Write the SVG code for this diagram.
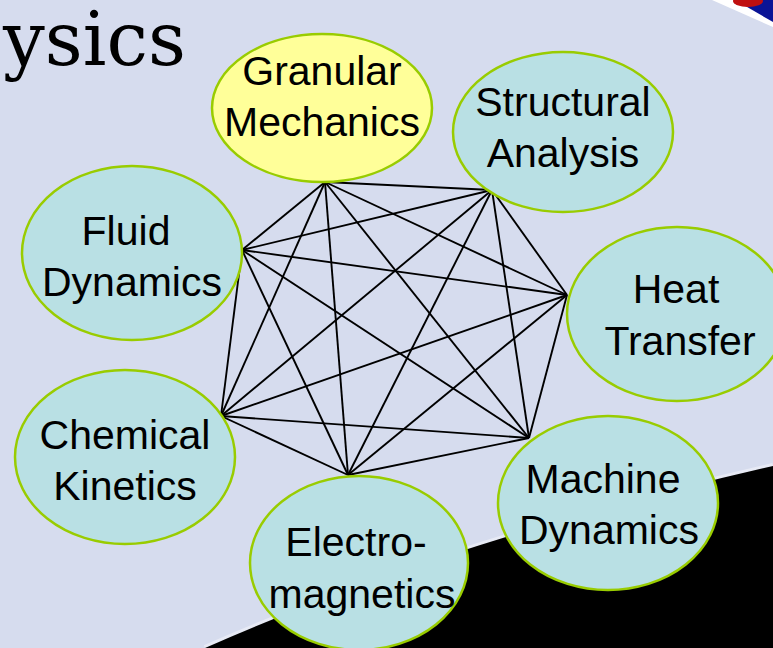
<svg xmlns="http://www.w3.org/2000/svg" width="773" height="648" viewBox="0 0 773 648">
<style>
.bg{fill:#d6dcee}
.node ellipse{fill:#b9e0e4;stroke:#99cc00;stroke-width:2.5}
.node.hl ellipse{fill:#ffff99}
.node text{font-family:"Liberation Sans",Arial,sans-serif;font-size:41px;fill:#000;text-anchor:middle}
#edges line{stroke:#000;stroke-width:1.9}
.title{font-family:"DejaVu Serif",serif;font-size:74px;font-weight:300;fill:#000}
</style>
<rect class="bg" x="0" y="0" width="773" height="648"/>
<path d="M 205 648 Q 450 540 773 466" fill="none" stroke="#eef0f8" stroke-width="6" opacity="0.7"/>
<path d="M 205 648 Q 450 540 773 466 L 773 648 Z" fill="#000"/>
<g id="corner">
<path d="M 712 0 L 773 0 L 773 27 Z" fill="#ffffff"/>
<path d="M 735 0 L 773 0 L 773 22 Z" fill="#0a1496"/>
<ellipse cx="748" cy="1" rx="15" ry="6" fill="#c01010"/>
</g>
<text class="title" x="3" y="65" textLength="183" lengthAdjust="spacing">ysics</text>
<g id="edges">
<line x1="325" y1="182" x2="492" y2="190"/>
<line x1="325" y1="182" x2="567" y2="295"/>
<line x1="325" y1="182" x2="529" y2="438"/>
<line x1="325" y1="182" x2="348" y2="475"/>
<line x1="325" y1="182" x2="221" y2="416"/>
<line x1="325" y1="182" x2="242" y2="250"/>
<line x1="492" y1="190" x2="567" y2="295"/>
<line x1="492" y1="190" x2="529" y2="438"/>
<line x1="492" y1="190" x2="348" y2="475"/>
<line x1="492" y1="190" x2="221" y2="416"/>
<line x1="492" y1="190" x2="242" y2="250"/>
<line x1="567" y1="295" x2="529" y2="438"/>
<line x1="567" y1="295" x2="348" y2="475"/>
<line x1="567" y1="295" x2="221" y2="416"/>
<line x1="567" y1="295" x2="242" y2="250"/>
<line x1="529" y1="438" x2="348" y2="475"/>
<line x1="529" y1="438" x2="221" y2="416"/>
<line x1="529" y1="438" x2="242" y2="250"/>
<line x1="348" y1="475" x2="221" y2="416"/>
<line x1="348" y1="475" x2="242" y2="250"/>
<line x1="221" y1="416" x2="242" y2="250"/>
</g>
<g id="granular" class="node hl">
<ellipse cx="322" cy="108" rx="110" ry="74"/>
<text x="322" y="85">Granular</text>
<text x="322" y="136">Mechanics</text>
</g>
<g id="structural" class="node">
<ellipse cx="563" cy="132" rx="110" ry="80"/>
<text x="563" y="116">Structural</text>
<text x="563" y="167">Analysis</text>
</g>
<g id="fluid" class="node">
<ellipse cx="132" cy="253" rx="110" ry="87"/>
<text x="126" y="245">Fluid</text>
<text x="132" y="296">Dynamics</text>
</g>
<g id="heat" class="node">
<ellipse cx="677" cy="314" rx="110" ry="87"/>
<text x="676" y="303">Heat</text>
<text x="680" y="355">Transfer</text>
</g>
<g id="chemical" class="node">
<ellipse cx="125" cy="457" rx="110" ry="87"/>
<text x="125" y="449">Chemical</text>
<text x="125" y="500">Kinetics</text>
</g>
<g id="machine" class="node">
<ellipse cx="608" cy="503" rx="110" ry="87"/>
<text x="603" y="493">Machine</text>
<text x="609" y="544">Dynamics</text>
</g>
<g id="electro" class="node">
<ellipse cx="359" cy="563" rx="109" ry="87"/>
<text x="356" y="556">Electro-</text>
<text x="362" y="608">magnetics</text>
</g>
</svg>
